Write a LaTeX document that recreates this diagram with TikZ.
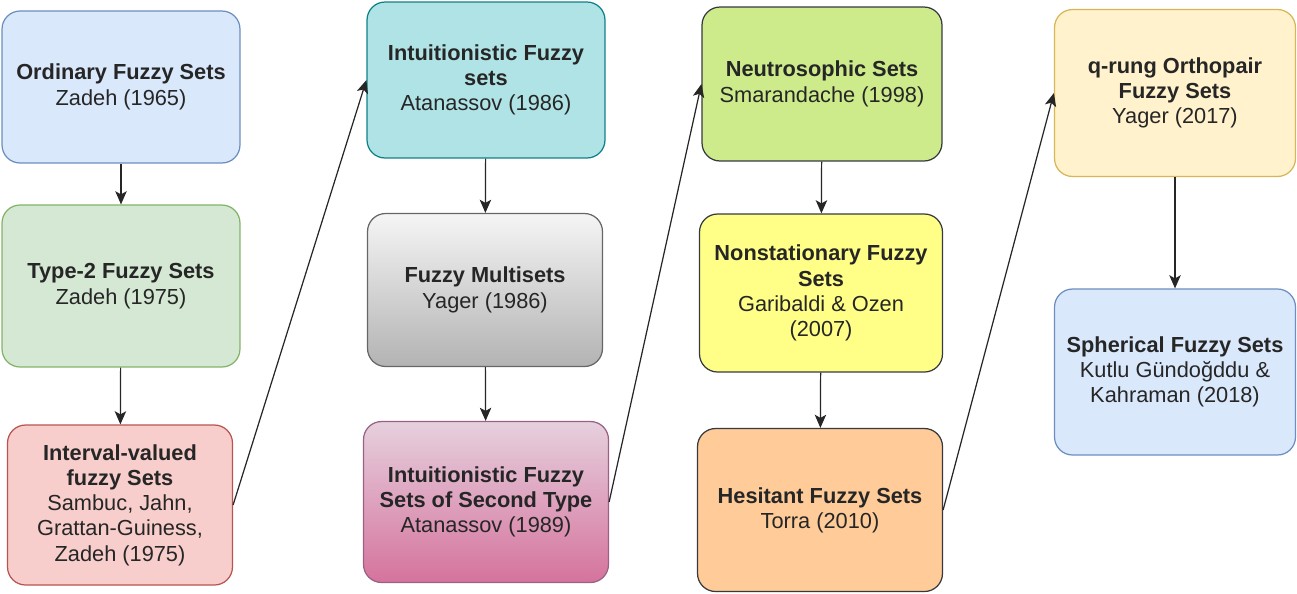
\documentclass[tikz,border=0pt]{standalone}
\usepackage{fontspec}
\setmainfont{Liberation Sans}
\usetikzlibrary{arrows.meta}
\definecolor{fzblue}{HTML}{DAE8FC}
\definecolor{fzbluedk}{HTML}{6C8EBF}
\definecolor{fzgreen}{HTML}{D5E8D4}
\definecolor{fzgreendk}{HTML}{82B366}
\definecolor{fzred}{HTML}{F8CECC}
\definecolor{fzreddk}{HTML}{B85450}
\definecolor{fzcyan}{HTML}{B0E3E6}
\definecolor{fzcyandk}{HTML}{0E8088}
\definecolor{fzgraytop}{HTML}{F5F5F5}
\definecolor{fzgraybot}{HTML}{B3B3B3}
\definecolor{fzgraydk}{HTML}{666666}
\definecolor{fzpinktop}{HTML}{E6D0DE}
\definecolor{fzpinkbot}{HTML}{D5739D}
\definecolor{fzpinkdk}{HTML}{996185}
\definecolor{fzlime}{HTML}{CDEB8B}
\definecolor{fzyellow}{HTML}{FFFF88}
\definecolor{fzorange}{HTML}{FFCC99}
\definecolor{fzdark}{HTML}{36393D}
\definecolor{fzcream}{HTML}{FFF2CC}
\definecolor{fzcreamdk}{HTML}{D6B656}

\begin{document}
\begin{tikzpicture}[x=0.02cm,y=-0.02cm,>={Stealth[length=7.5pt,width=6.5pt,inset=1.8pt]},
  setbox/.style={draw,rounded corners=0.36cm,line width=0.7pt,align=center,
    inner sep=0pt,text=black!85,font=\fontsize{12.4}{14.4}\selectfont},
  link/.style={->,line width=0.7pt,black!85}]
  \useasboundingbox (0,0) rectangle (1297,593);
  \node[setbox,fill=fzblue,draw=fzbluedk,minimum width=4.76cm,minimum height=3.04cm]
    (ordinary) at (121,87) {\textbf{Ordinary Fuzzy Sets}\\Zadeh (1965)};
  \node[setbox,fill=fzgreen,draw=fzgreendk,minimum width=4.76cm,minimum height=3.24cm]
    (typetwo) at (121,286) {\textbf{Type-2 Fuzzy Sets}\\Zadeh (1975)};
  \node[setbox,fill=fzred,draw=fzreddk,minimum width=4.5cm,minimum height=3.2cm]
    (interval) at (120,505) {\textbf{Interval-valued}\\\textbf{fuzzy Sets}\\Sambuc, Jahn,\\Grattan-Guiness,\\Zadeh (1975)};
  \node[setbox,fill=fzcyan,draw=fzcyandk,minimum width=4.76cm,minimum height=3.12cm]
    (intuit) at (486,80) {\textbf{Intuitionistic Fuzzy}\\\textbf{sets}\\Atanassov (1986)};
  \node[setbox,top color=fzgraytop,bottom color=fzgraybot,draw=fzgraydk,minimum width=4.7cm,minimum height=3.06cm]
    (multi) at (485,290) {\textbf{Fuzzy Multisets}\\Yager (1986)};
  \node[setbox,top color=fzpinktop,bottom color=fzpinkbot,draw=fzpinkdk,minimum width=4.9cm,minimum height=3.22cm]
    (second) at (486,502) {\textbf{Intuitionistic Fuzzy}\\\textbf{Sets of Second Type}\\Atanassov (1989)};
  \node[setbox,fill=fzlime,draw=fzdark,minimum width=4.8cm,minimum height=3.08cm]
    (neutro) at (822,84) {\textbf{Neutrosophic Sets}\\Smarandache (1998)};
  \node[setbox,fill=fzyellow,draw=fzdark,minimum width=4.86cm,minimum height=3.16cm]
    (nonstat) at (821,293) {\textbf{Nonstationary Fuzzy}\\\textbf{Sets}\\Garibaldi \& Ozen\\(2007)};
  \node[setbox,fill=fzorange,draw=fzdark,minimum width=4.9cm,minimum height=3.26cm]
    (hesitant) at (820,510) {\textbf{Hesitant Fuzzy Sets}\\Torra (2010)};
  \node[setbox,fill=fzcream,draw=fzcreamdk,minimum width=4.82cm,minimum height=3.34cm]
    (qrung) at (1175,93) {\textbf{q-rung Orthopair}\\\textbf{Fuzzy Sets}\\Yager (2017)};
  \node[setbox,fill=fzblue,draw=fzbluedk,minimum width=4.82cm,minimum height=3.32cm]
    (spherical) at (1175,372) {\textbf{Spherical Fuzzy Sets}\\Kutlu Gündoğddu \&\\Kahraman (2018)};
  \draw[link] (ordinary) -- (typetwo);
  \draw[link] (typetwo) -- (interval);
  \draw[link] (interval.east) -- (intuit.west);
  \draw[link] (intuit) -- (multi);
  \draw[link] (multi) -- (second);
  \draw[link] (second.east) -- (neutro.west);
  \draw[link] (neutro) -- (nonstat);
  \draw[link] (nonstat) -- (hesitant);
  \draw[link] (hesitant.east) -- (qrung.west);
  \draw[link] (qrung) -- (spherical);
\end{tikzpicture}
\end{document}
